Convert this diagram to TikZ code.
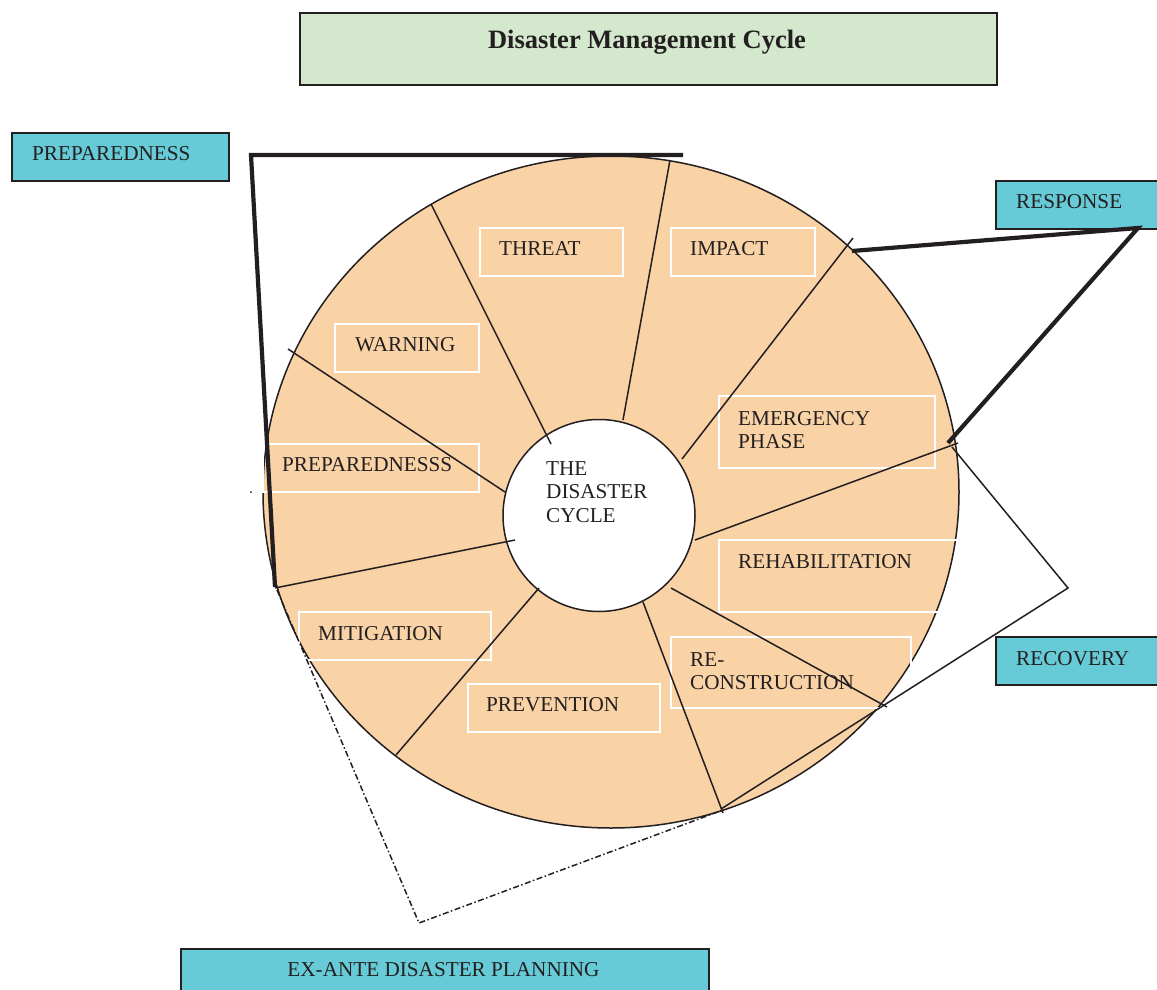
\documentclass[tikz,border=0pt]{standalone}
\usepackage{fontspec}
\setmainfont{Liberation Serif}
\definecolor{peach}{HTML}{F9D2A6}
\definecolor{cyanbox}{HTML}{66CBD7}
\definecolor{titlegreen}{HTML}{D3E8CD}
\definecolor{ink}{HTML}{231F20}
\begin{document}
\begin{tikzpicture}[x=1pt,y=-1pt,
  lbl/.style={font=\fontsize{21.2}{23.5}\selectfont, text=ink, inner sep=0pt},
  mlbl/.style={lbl, align=left, anchor=north west},
  slbl/.style={lbl, anchor=west},
  whitebox/.style={draw=white, line width=1.2pt},
  radial/.style={draw=ink, line width=1.5pt},
  thickline/.style={draw=ink, line width=4.2pt, line join=miter},
  cyanlabel/.style={draw=ink, line width=1.8pt, fill=cyanbox, anchor=north west,
    minimum height=48pt, inner sep=0pt}
]
\useasboundingbox (0,0) rectangle (1157,990);

% title
\node[draw=ink, line width=1.8pt, fill=titlegreen, anchor=north west,
  minimum width=697pt, minimum height=72pt, inner sep=0pt] (titlebox) at (299,12) {};
\node[font=\bfseries\fontsize{26.5}{30}\selectfont, text=ink, inner sep=0pt, anchor=base] (title) at (647,48.5) {Disaster Management Cycle};

% wheel
\fill[peach] (611,492) ellipse [x radius=348pt, y radius=336pt];
\draw[ink, line width=1.5pt] (611,492) ellipse [x radius=348pt, y radius=336pt];
\node[circle, draw=ink, fill=white, line width=1.5pt, minimum size=192pt, inner sep=0pt] (hub) at (599,515.5) {};

% label frames
\draw[whitebox] (480,228) rectangle (623,276);
\draw[whitebox] (671,228) rectangle (815,276);
\draw[whitebox] (335,324) rectangle (479,372);
\draw[whitebox] (719,396) rectangle (935,468);
\draw[whitebox] (263,444) rectangle (479,492);
\draw[whitebox] (719,540) rectangle (958,612);
\draw[whitebox] (671,637) rectangle (911,708);
\draw[whitebox] (299,612) rectangle (491,660);
\draw[whitebox] (468,684) rectangle (660,732);

% radial dividers
\coordinate (r1o) at (431,204); \coordinate (r1i) at (551,444);
\coordinate (r2o) at (670,160); \coordinate (r2i) at (623,420);
\coordinate (r3o) at (853,238); \coordinate (r3i) at (682,459);
\coordinate (r4o) at (958,443); \coordinate (r4i) at (695,540);
\coordinate (r5o) at (887,707); \coordinate (r5i) at (671,588);
\coordinate (r6o) at (723,813); \coordinate (r6i) at (643,602);
\coordinate (r7o) at (396,755); \coordinate (r7i) at (539,588);
\coordinate (r8o) at (275,588); \coordinate (r8i) at (515,540);
\coordinate (r9o) at (288,349); \coordinate (r9i) at (505,492);
\foreach \i in {1,...,9} \draw[radial] (r\i o) -- (r\i i);

% segment labels
\node[slbl] (threat) at (499,249) {THREAT};
\node[slbl] (impact) at (690,249) {IMPACT};
\node[slbl] (warning) at (355,345) {WARNING};
\node[mlbl] (emerg) at (738,411) {EMERGENCY\\PHASE};
\node[slbl] (prep2) at (282,465) {PREPAREDNESSS};
\node[slbl] (rehab) at (738,562) {REHABILITATION};
\node[mlbl] (recon) at (690,652) {RE-\\CONSTRUCTION};
\node[slbl] (mitig) at (318,634) {MITIGATION};
\node[slbl] (prevent) at (486,705) {PREVENTION};
\node[mlbl] (hubtext) at (546,461) {THE\\DISASTER\\CYCLE};

% phase boxes
\node[cyanlabel, minimum width=217pt] (prep) at (11,132) {};
\node[slbl] (preptext) at (32,154) {PREPAREDNESS};
\node[cyanlabel, minimum width=190pt] (resp) at (995,180) {};
\node[slbl] (resptext) at (1016,202) {RESPONSE};
\node[cyanlabel, minimum width=190pt] (recov) at (995,636) {};
\node[slbl] (recovtext) at (1016,659) {RECOVERY};
\node[cyanlabel, minimum width=528pt, minimum height=52pt] (exante) at (180,948) {};
\node[lbl] (exantetext) at (443.5,970) {EX-ANTE DISASTER PLANNING};

% brackets
\coordinate (pa) at (683,155); \coordinate (pb) at (251,155); \coordinate (pc) at (275,587);
\draw[thickline] (pa) -- (pb) -- (pc);
\coordinate (ra) at (852,251); \coordinate (rb) at (1138,228); \coordinate (rc) at (948,443);
\draw[thickline] (ra) -- (rb) -- (rc);
\coordinate (ca) at (952,447); \coordinate (cb) at (1068,588); \coordinate (cc) at (721,809);
\draw[ink, line width=1.5pt] (ca) -- (cb) -- (cc);
\coordinate (ea) at (277,590); \coordinate (eb) at (419,923); \coordinate (ec) at (723,810);
\draw[ink, line width=1.5pt, dash pattern=on 6pt off 2.5pt on 1.5pt off 2.5pt] (ea) -- (eb) -- (ec);
\fill[ink] (251,492) circle (1pt);
\end{tikzpicture}
\end{document}
